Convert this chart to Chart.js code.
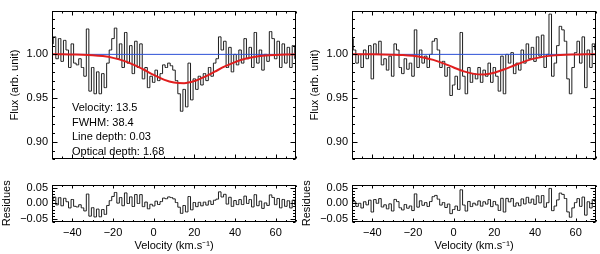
<!DOCTYPE html>
<html>
<head>
<meta charset="utf-8">
<script src="https://cdn.jsdelivr.net/npm/chart.js@4.4.0/dist/chart.umd.min.js"></script>
<style>
  body { margin: 0; background: #fff; width: 600px; height: 254px; overflow: hidden; position: relative; }
  canvas { position: absolute; }
</style>
</head>
<body>
<canvas id="fluxLeft" width="300" height="170" style="left:0;top:0"></canvas>
<canvas id="residLeft" width="300" height="80" style="left:0;top:174px"></canvas>
<canvas id="fluxRight" width="300" height="170" style="left:300px;top:0"></canvas>
<canvas id="residRight" width="300" height="80" style="left:300px;top:174px"></canvas>
<script>
// velocity of each spectrum pixel (km/s)
const velocity = [-50, -48.75, -47.5, -46.25, -45, -43.75, -42.5, -41.25, -40, -38.75, -37.5, -36.25,
  -35, -33.75, -32.5, -31.25, -30, -28.75, -27.5, -26.25, -25, -23.75, -22.5, -21.25, -20, -18.75,
  -17.5, -16.25, -15, -13.75, -12.5, -11.25, -10, -8.75, -7.5, -6.25, -5, -3.75, -2.5, -1.25, 0,
  1.25, 2.5, 3.75, 5, 6.25, 7.5, 8.75, 10, 11.25, 12.5, 13.75, 15, 16.25, 17.5, 18.75, 20, 21.25,
  22.5, 23.75, 25, 26.25, 27.5, 28.75, 30, 31.25, 32.5, 33.75, 35, 36.25, 37.5, 38.75, 40, 41.25,
  42.5, 43.75, 45, 46.25, 47.5, 48.75, 50, 51.25, 52.5, 53.75, 55, 56.25, 57.5, 58.75, 60, 61.25,
  62.5, 63.75, 65, 66.25, 67.5, 68.75, 70];

// normalised flux, left panel
const fluxLeft = [1.012, 1.020, 0.995, 1.018, 0.992, 1.016, 1.005, 0.985, 1.012, 0.990, 0.988, 0.995,
  0.985, 0.975, 1.029, 0.958, 0.985, 0.955, 0.980, 0.955, 0.978, 0.962, 0.990, 1.005, 1.018, 1.030,
  0.995, 1.012, 0.985, 1.025, 0.990, 1.010, 0.978, 1.015, 0.985, 1.012, 0.972, 0.985, 0.962, 0.975,
  0.968, 0.982, 0.970, 0.978, 0.988, 0.985, 0.990, 0.987, 0.982, 0.970, 0.955, 0.935, 0.960, 0.940,
  0.990, 0.948, 0.972, 0.960, 0.975, 0.965, 0.978, 0.970, 0.985, 0.975, 0.990, 0.995, 1.020, 1.005,
  1.015, 0.985, 1.008, 0.980, 1.000, 0.988, 1.005, 0.990, 1.018, 0.995, 1.008, 0.985, 1.025, 0.990,
  1.005, 0.982, 1.000, 0.992, 1.026, 1.018, 0.995, 1.015, 0.985, 1.012, 0.990, 1.008, 0.985, 1.010,
  0.995];

// normalised flux, right panel
const fluxRight = [1.018, 1.005, 0.990, 1.000, 0.985, 1.005, 0.995, 1.010, 0.972, 1.012, 1.000, 1.015,
  0.988, 0.995, 0.982, 0.998, 0.975, 1.012, 1.005, 0.985, 0.978, 0.995, 0.983, 0.990, 0.975, 1.028,
  0.985, 1.005, 0.990, 0.998, 0.985, 1.000, 1.015, 1.018, 1.005, 0.985, 0.992, 0.975, 0.985, 0.953,
  0.965, 0.975, 0.960, 1.025, 0.975, 0.955, 0.985, 0.968, 0.978, 0.972, 0.985, 0.968, 0.982, 0.975,
  0.990, 0.968, 0.985, 0.975, 0.958, 0.998, 0.955, 1.000, 0.990, 1.002, 0.978, 0.990, 0.982, 1.005,
  0.990, 1.012, 0.995, 1.008, 0.992, 1.020, 0.998, 1.022, 0.985, 1.000, 1.046, 0.975, 0.990, 1.010,
  1.032, 1.028, 1.015, 0.972, 0.955, 0.985, 1.002, 1.015, 0.990, 1.020, 0.962, 1.005, 0.985, 1.012,
  1.005];

// gaussian fits, read every 5 km/s
const fitVelocity = [-50, -45, -40, -35, -30, -25, -20, -15, -10, -5, 0, 5, 10, 15, 20, 25, 30, 35, 40, 45, 50, 55, 60, 65, 70];
const fitLeft = [1.000, 1.000, 0.9998, 0.9996, 0.9991, 0.998, 0.996, 0.9928, 0.9883, 0.9827, 0.9766, 0.9712, 0.9678,
  0.9671, 0.9695, 0.9743, 0.9802, 0.9862, 0.9912, 0.9949, 0.9973, 0.9987, 0.9994, 0.9998, 1.000];
const fitRight = [1.000, 1.000, 1.000, 0.9999, 0.9997, 0.9993, 0.9983, 0.9965, 0.9937, 0.9897, 0.985, 0.9806, 0.9777,
  0.9771, 0.9791, 0.983, 0.9876, 0.992, 0.9954, 0.9977, 0.9989, 0.9996, 0.9998, 1.000, 1.000];

const fluxTicks = [0.90, 0.95, 1.00];
const residTicks = [-0.05, 0.00, 0.05];
const velTicks = [-40, -20, 0, 20, 40, 60];
const fitInfo = ["Velocity: 13.5", "FWHM: 38.4", "Line depth: 0.03", "Optical depth: 1.68"];

const FONT = "'Liberation Sans', Arial, sans-serif";
Chart.defaults.font.family = FONT;
Chart.defaults.font.size = 11;
Chart.defaults.color = '#000';

// fit value at v (straight line between the read samples)
function fitAt(fit, v) {
  for (let i = 0; i < fitVelocity.length - 1; i++) {
    if (v <= fitVelocity[i + 1]) {
      const t = (v - fitVelocity[i]) / (fitVelocity[i + 1] - fitVelocity[i]);
      return fit[i] + t * (fit[i + 1] - fit[i]);
    }
  }
  return fit[fit.length - 1];
}

function minus(s) { return s.replace('-', '\u2212'); }

// box with inward ticks on all sides, idl style, plus the texts
const idlFrame = {
  id: 'idlFrame',
  afterDatasetsDraw(chart, args, o) {
    const { ctx, chartArea: a, scales: { x, y } } = chart;
    const L = Math.round(a.left) + 0.5, R = Math.round(a.right) - 0.5;
    const T = Math.round(a.top) + 0.5, B = Math.round(a.bottom) - 0.5;
    ctx.save();
    ctx.strokeStyle = '#000';
    ctx.lineWidth = 1;
    ctx.strokeRect(L, T, R - L, B - T);
    ctx.beginPath();
    // x ticks every 5, major every 20
    for (let v = -50; v <= 70; v += 5) {
      const px = Math.round(x.getPixelForValue(v)) + 0.5;
      const len = v % 20 === 0 ? o.xMajor : o.xMinor;
      ctx.moveTo(px, B); ctx.lineTo(px, B - len);
      ctx.moveTo(px, T); ctx.lineTo(px, T + len);
    }
    // y ticks every 0.01, major every 0.05
    const k0 = Math.ceil(y.min * 100 - 1e-6), k1 = Math.floor(y.max * 100 + 1e-6);
    for (let k = k0; k <= k1; k++) {
      const py = Math.round(y.getPixelForValue(k / 100)) + 0.5;
      const len = k % 5 === 0 ? 5 : 2.5;
      ctx.moveTo(L, py); ctx.lineTo(L + len, py);
      ctx.moveTo(R, py); ctx.lineTo(R - len, py);
    }
    ctx.stroke();

    ctx.fillStyle = '#000';
    ctx.font = '11px ' + FONT;
    // y title
    ctx.save();
    ctx.translate(o.yTitleX, (a.top + a.bottom) / 2);
    ctx.rotate(-Math.PI / 2);
    ctx.textAlign = 'center';
    ctx.textBaseline = 'middle';
    ctx.fillText(o.yTitle, 0, 0);
    ctx.restore();
    // x title
    if (o.xTitle) {
      ctx.textAlign = 'center';
      ctx.textBaseline = 'middle';
      ctx.fillText(o.xTitle, (a.left + a.right) / 2, o.xTitleY);
    }
    // fit results
    if (o.notes) {
      ctx.textAlign = 'left';
      ctx.textBaseline = 'middle';
      o.notes.forEach((t, i) => ctx.fillText(t, 72, 108 + i * 14.7));
    }
    ctx.restore();
  }
};

function fluxChart(id, flux, fit, notes) {
  const pts = velocity.map((v, i) => ({ x: v, y: flux[i] }));
  return new Chart(id, {
    type: 'line',
    data: {
      datasets: [
        { data: fitVelocity.map((v, i) => ({ x: v, y: fit[i] })), borderColor: '#e01e1e', borderWidth: 2,
          pointRadius: 0, cubicInterpolationMode: 'monotone', order: 1 },
        { data: [{ x: -50, y: 1 }, { x: 70, y: 1 }], borderColor: '#2c4fd6', borderWidth: 1, pointRadius: 0, order: 2 },
        { data: pts, stepped: 'middle', borderColor: '#1e1e1e', borderWidth: 1, pointRadius: 0, order: 3 }
      ]
    },
    options: {
      responsive: false, animation: false, events: [],
      layout: { padding: { top: 4, right: 4, bottom: 1, left: 0 } },
      plugins: {
        legend: { display: false }, tooltip: { enabled: false },
        idlFrame: { xMajor: 4, xMinor: 2, yTitle: 'Flux (arb. unit)', yTitleX: 14.5, notes: notes }
      },
      scales: {
        x: { type: 'linear', min: -50, max: 70, display: false },
        y: {
          min: 0.88, max: 1.05,
          grid: { display: false, drawTicks: false }, border: { display: false },
          afterFit(s) { s.width = 52; },
          afterBuildTicks(s) { s.ticks = fluxTicks.map(v => ({ value: v })); },
          ticks: { padding: 4, callback: v => v.toFixed(2) }
        }
      }
    },
    plugins: [idlFrame]
  });
}

function residChart(id, flux, fit) {
  const pts = velocity.map((v, i) => ({ x: v, y: flux[i] - fitAt(fit, v) }));
  return new Chart(id, {
    type: 'line',
    data: {
      datasets: [
        { data: pts, stepped: 'middle', borderColor: '#1e1e1e', borderWidth: 1, pointRadius: 0 }
      ]
    },
    options: {
      responsive: false, animation: false, events: [],
      layout: { padding: { top: 4, right: 4, bottom: 0, left: 0 } },
      plugins: {
        legend: { display: false }, tooltip: { enabled: false },
        idlFrame: { xMajor: 3, xMinor: 1.5, yTitle: 'Residues', yTitleX: 7, xTitle: 'Velocity (km.s\u207B\u00B9)', xTitleY: 72 }
      },
      scales: {
        x: {
          type: 'linear', min: -50, max: 70,
          grid: { display: false, drawTicks: false }, border: { display: false },
          afterFit(s) { s.height = 32; },
          afterBuildTicks(s) { s.ticks = velTicks.map(v => ({ value: v })); },
          ticks: { padding: 4, maxRotation: 0, autoSkip: false, callback: v => minus(String(v)) }
        },
        y: {
          min: -0.06, max: 0.06,
          grid: { display: false, drawTicks: false }, border: { display: false },
          afterFit(s) { s.width = 52; },
          afterBuildTicks(s) { s.ticks = residTicks.map(v => ({ value: v })); },
          ticks: { padding: 4, callback: v => minus(v.toFixed(2)) }
        }
      }
    },
    plugins: [idlFrame]
  });
}

fluxChart('fluxLeft', fluxLeft, fitLeft, fitInfo);
residChart('residLeft', fluxLeft, fitLeft);
fluxChart('fluxRight', fluxRight, fitRight, null);
residChart('residRight', fluxRight, fitRight);
</script>
</body>
</html>
